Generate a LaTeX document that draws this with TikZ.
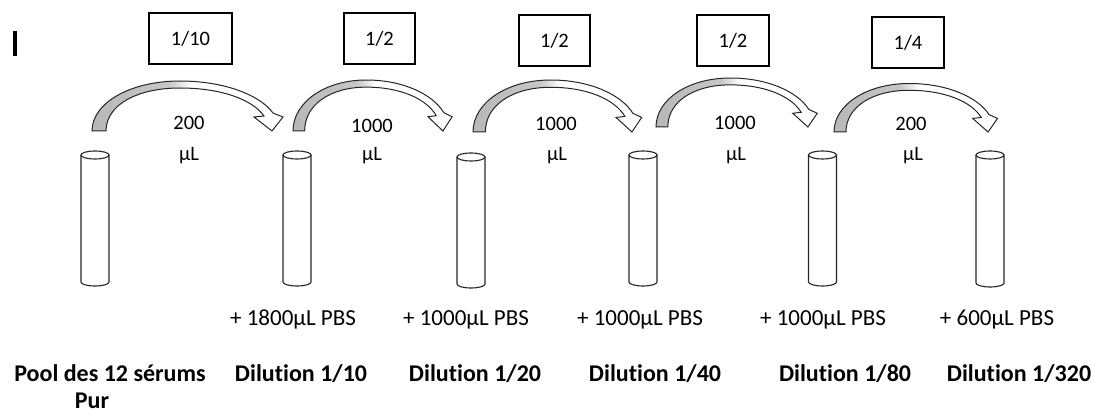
\documentclass[tikz,border=0pt]{standalone}
\usepackage{fontspec}
\setmainfont{Carlito}[Ligatures={NoCommon}]
\pgfdeclarehorizontalshading{armshade}{100bp}{color(0bp)=(black!28); color(25bp)=(black!28); color(45bp)=(black!22); color(51bp)=(white); color(100bp)=(white)}
\tikzset{
  every node/.style={font=\fontsize{20.5}{24}\selectfont, inner sep=0pt, text=black},
  ratiobox/.style={draw=black, line width=1.2pt, minimum height=51pt},
  tubeline/.style={line width=1.1pt, draw=black!85},
  armline/.style={line width=1pt, draw=black!85, shading=armshade},
  lbl/.style={anchor=base},
  plbl/.style={anchor=base, font=\fontsize{23}{27}\selectfont},
  blbl/.style={anchor=base, font=\fontsize{24}{28}\selectfont\bfseries},
}
\newcommand\mkarm[4]{%
  \begin{scope}[shift={(#1,#2)}, xscale=#3, yscale=#4]
    \path[armline] (0,0) .. controls (0,-28) and (38,-50) .. (88,-50)
      .. controls (132,-50) and (168,-36) .. (181,-18)
      -- (191,-14) -- (180,0) -- (162,-14) -- (172,-15)
      .. controls (160,-32) and (128,-43) .. (88,-43)
      .. controls (45,-43) and (14,-26) .. (14,0) -- cycle;
  \end{scope}}
\newcommand\mktube[3]{%
  \draw[tubeline] (#1-14,#2) -- (#1-14,#3) arc[start angle=180, end angle=360, x radius=14pt, y radius=4pt] -- (#1+14,#2);
  \draw[tubeline] (#1,#2) ellipse [x radius=14pt, y radius=4pt];}
\begin{document}
\begin{tikzpicture}[x=1pt, y=-1pt]
\useasboundingbox (0,0) rectangle (1094,414);
% cursor mark
\fill[black] (13,31) rectangle (17,56);
% ratio boxes
\node[ratiobox, minimum width=83pt] (b1) at (190.5,38.5) {1/10};
\node[ratiobox, minimum width=71pt] (b2) at (379.5,38.5) {1/2};
\node[ratiobox, minimum width=71pt] (b3) at (554.5,40.5) {1/2};
\node[ratiobox, minimum width=72pt] (b4) at (733,40.5) {1/2};
\node[ratiobox, minimum width=72pt] (b5) at (908,42.5) {1/4};
% curved arrows
\mkarm{92}{131}{1}{1}
\mkarm{293}{131}{0.833}{1.02}
\mkarm{473}{132}{0.883}{1.04}
\mkarm{656}{127}{0.844}{0.98}
\mkarm{834}{132}{0.856}{0.97}
% volumes
\node[lbl] (v1a) at (189,130) {200};
\node[lbl] (v1b) at (189,161) {µL};
\node[lbl] (v2a) at (372,133) {1000};
\node[lbl] (v2b) at (372,161) {µL};
\node[lbl] (v3a) at (556,131) {1000};
\node[lbl] (v3b) at (557,161) {µL};
\node[lbl] (v4a) at (735,130) {1000};
\node[lbl] (v4b) at (736,161) {µL};
\node[lbl] (v5a) at (911,131) {200};
\node[lbl] (v5b) at (913,161) {µL};
% tubes
\mktube{95}{155}{282}
\mktube{297}{155}{282}
\mktube{471}{157}{284}
\mktube{643}{155}{282}
\mktube{822.5}{155}{282}
\mktube{990}{155}{283}
% PBS
\node[plbl] (p1) at (293,325) {+ 1800µL PBS};
\node[plbl] (p2) at (466,325) {+ 1000µL PBS};
\node[plbl] (p3) at (640,325) {+ 1000µL PBS};
\node[plbl] (p4) at (823,325) {+ 1000µL PBS};
\node[plbl] (p5) at (997,325) {+ 600µL PBS};
% dilution labels
\node[blbl] (d0) at (110,381) {Pool des 12 sérums};
\node[blbl] (d0b) at (92,408) {Pur};
\node[blbl] (d1) at (301,381) {Dilution 1/10};
\node[blbl] (d2) at (475,381) {Dilution 1/20};
\node[blbl] (d3) at (655,381) {Dilution 1/40};
\node[blbl] (d4) at (845,381) {Dilution 1/80};
\node[blbl] (d5) at (1019,381) {Dilution 1/320};
\end{tikzpicture}
\end{document}
